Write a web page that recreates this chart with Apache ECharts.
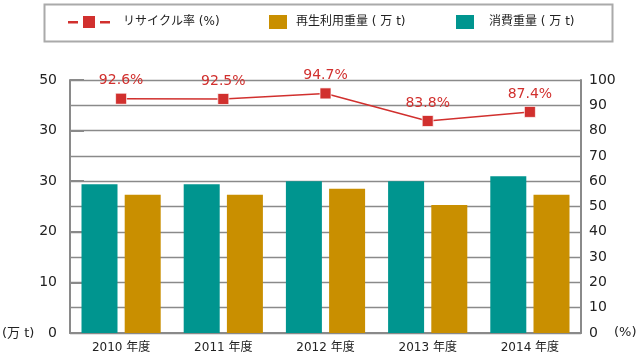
<!DOCTYPE html>
<html><head><meta charset="utf-8">
<script src="https://cdn.jsdelivr.net/npm/echarts@6/dist/echarts.min.js"></script>
<style>html,body{margin:0;padding:0;background:#fff}#c{width:640px;height:356px}</style>
</head><body><div id="c"></div>
<script>
const categories = ['2010 年度', '2011 年度', '2012 年度', '2013 年度', '2014 年度'];
const consumption = [29.4, 29.4, 30.0, 30.0, 31.0];
const recycled = [27.3, 27.3, 28.5, 25.3, 27.3];
const recycleRate = [92.6, 92.5, 94.7, 83.8, 87.4];
const leftTickLabels = ['0', '10', '20', '30', '30', '50'];
const seriesNames = ['リサイクル率 (%)', '再生利用重量 ( 万 t)', '消費重量 ( 万 t)'];

const FONT = '"DejaVu Sans", "Noto Sans CJK JP", sans-serif';
const RED = '#D1302E', GOLD = '#C98F00', TEAL = '#00958F', GRAY = '#8a8a8a';

const chart = echarts.init(document.getElementById('c'), null, {renderer: 'canvas'});
const legendBase = {
  top: 15, itemHeight: 14, itemWidth: 18, selectedMode: false, padding: 0,
  textStyle: {fontFamily: FONT, fontSize: 12, color: '#222'},
  itemStyle: {borderWidth: 0}
};
chart.setOption({
  animation: false,
  textStyle: {fontFamily: FONT},
  grid: {left: 70, right: 59, top: 80, bottom: 23},
  legend: [
    Object.assign({}, legendBase, {left: 68, itemWidth: 42, itemHeight: 12, top: 16,
      icon: 'path://M0,5h10v2.4H0z M15,0h12v12H15z M32,5h10v2.4H32z',
      textStyle: {fontFamily: FONT, fontSize: 12, color: '#222', padding: [0, 0, 0, 8]},
      data: [seriesNames[0]]}),
    Object.assign({}, legendBase, {left: 269, icon: 'rect',
      textStyle: {fontFamily: FONT, fontSize: 12, color: '#222', padding: [0, 0, 0, 4]},
      data: [seriesNames[1]]}),
    Object.assign({}, legendBase, {left: 456, icon: 'rect',
      textStyle: {fontFamily: FONT, fontSize: 12, color: '#222', padding: [0, 0, 0, 10]},
      data: [seriesNames[2]]})
  ],
  graphic: [
    {type: 'rect', left: 42, top: 2, shape: {width: 568, height: 37},
     style: {fill: 'none', stroke: '#aaa', lineWidth: 2}, silent: true},
    {type: 'text', left: 2, top: 327, style: {text: '(万 t)', font: '13px ' + FONT, fill: '#222'}},
    {type: 'text', left: 614, top: 326, style: {text: '(%)', font: '13px ' + FONT, fill: '#222'}}
  ],
  xAxis: {
    type: 'category', data: categories, z: 0,
    axisLine: {lineStyle: {color: GRAY, width: 2}},
    axisTick: {show: false},
    axisLabel: {fontSize: 12, color: '#222', margin: 9, fontFamily: FONT}
  },
  yAxis: [
    {type: 'value', min: 0, max: 50, interval: 10, position: 'left', z: 0,
     axisLine: {show: true, lineStyle: {color: GRAY, width: 2}},
     axisTick: {show: true, inside: true, length: 14, lineStyle: {color: GRAY, width: 2}},
     splitLine: {show: false},
     axisLabel: {fontSize: 14, color: '#222', margin: 13, fontFamily: FONT,
       formatter: v => leftTickLabels[Math.round(v / 10)]}},
    {type: 'value', min: 0, max: 100, interval: 10, position: 'right', z: 0,
     axisLine: {show: true, lineStyle: {color: GRAY, width: 2}},
     axisTick: {show: false},
     splitLine: {show: true, lineStyle: {color: GRAY, width: 1.3}},
     axisLabel: {fontSize: 14, color: '#222', margin: 8, fontFamily: FONT}}
  ],
  series: [
    {name: seriesNames[2], type: 'bar', yAxisIndex: 0, data: consumption, z: 10,
     barWidth: 36, barGap: '20%', itemStyle: {color: TEAL}},
    {name: seriesNames[1], type: 'bar', yAxisIndex: 0, data: recycled, z: 10,
     barWidth: 36, itemStyle: {color: GOLD}},
    {name: seriesNames[0], type: 'line', yAxisIndex: 1, data: recycleRate,
     symbol: 'rect', symbolSize: 11, z: 12,
     lineStyle: {color: RED, width: 1.5},
     itemStyle: {color: RED, borderColor: 'rgba(255,255,255,0.7)', borderWidth: 1},
     label: {show: true, position: 'top', distance: 5, color: RED, fontSize: 14,
       fontFamily: FONT, formatter: p => p.value.toFixed(1) + '%'}}
  ]
});
</script></body></html>
